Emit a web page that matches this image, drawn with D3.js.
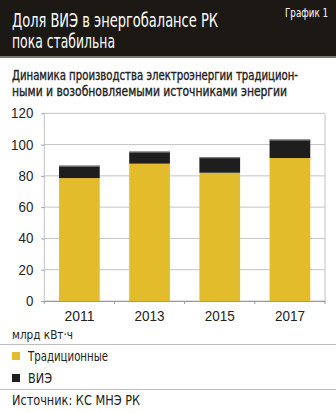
<!DOCTYPE html>
<html><head><meta charset="utf-8">
<script src="https://cdn.jsdelivr.net/npm/d3@7"></script>
<style>
body{margin:0;background:#fff;}
svg{display:block;font-family:"DejaVu Sans Condensed","DejaVu Sans",sans-serif;font-stretch:condensed;}
</style></head>
<body><svg id="c" width="336" height="413"></svg>
<script>
const years = ["2011","2013","2015","2017"];
const traditional = [78.6, 87.8, 82.0, 91.4];
const renewable = [7.9, 7.7, 9.9, 11.8];
const yTicks = [0,20,40,60,80,100,120];
const seriesNames = ["Традиционные","ВИЭ"];
const colors = ["#e3bc2b","#1e1e1e"];

const svg = d3.select("#c");
function txt(x,y,s,size,len,opts={}){
  const t = svg.append("text").attr("x",x).attr("y",y).attr("font-size",size)
    .attr("fill",opts.fill||"#222").text(s);
  if(len) t.attr("textLength",len).attr("lengthAdjust","spacingAndGlyphs");
  if(opts.anchor) t.attr("text-anchor",opts.anchor);
  if(opts.stroke) t.attr("stroke",opts.fill||"#222").attr("stroke-width",opts.stroke);
  return t;
}
// header
svg.append("rect").attr("x",0).attr("y",0).attr("width",336).attr("height",56).attr("fill","#1c1915");
svg.append("rect").attr("x",0).attr("y",56).attr("width",336).attr("height",2).attr("fill","#7a7672");
txt(12,27,"Доля ВИЭ в энергобалансе РК",19,206,{fill:"#fff"});
txt(12,48,"пока стабильна",19,103,{fill:"#fff"});
txt(285,17,"График 1",12.5,43,{fill:"#fff"});
// subtitle
txt(12,80,"Динамика производства электроэнергии традицион-",13.5,286,{stroke:0.35});
txt(12,96,"ными и возобновляемыми источниками энергии",13.5,275,{stroke:0.35});

const x = d3.scaleBand().domain(years).range([44.3,325]).paddingInner(0.42).paddingOuter(0.21);
const y = d3.scaleLinear().domain([0,120]).range([301,113.3]);

const g = svg.append("g");
g.selectAll("line.grid").data(yTicks).join("line")
 .attr("x1",44.3).attr("x2",325).attr("y1",d=>y(d)).attr("y2",d=>y(d))
 .attr("stroke","#c4c4c4").attr("stroke-width",1);
g.append("line").attr("x1",325).attr("x2",325).attr("y1",y(120)).attr("y2",y(0)).attr("stroke","#c4c4c4");
g.append("line").attr("x1",44.3).attr("x2",44.3).attr("y1",y(120)).attr("y2",y(0)).attr("stroke","#c4c4c4");

const stackData = years.map((yr,i)=>({year:yr, t:traditional[i], r:renewable[i]}));
const stack = d3.stack().keys(["t","r"])(stackData);
stack.forEach((s,si)=>{
  g.selectAll(null).data(s).join("rect")
   .attr("x",d=>x(d.data.year)).attr("width",x.bandwidth())
   .attr("y",d=>y(d[1])).attr("height",d=>y(d[0])-y(d[1]))
   .attr("fill",colors[si]);
  if(si===1){
    g.selectAll(null).data(s).join("line")
     .attr("x1",d=>x(d.data.year)).attr("x2",d=>x(d.data.year)+x.bandwidth())
     .attr("y1",d=>y(d[1])+0.5).attr("y2",d=>y(d[1])+0.5)
     .attr("stroke","#8a8a8a").attr("stroke-width",1);
  }
});

// x axis
const xAxis = g.append("g").attr("transform",`translate(0,${y(0)})`)
 .call(d3.axisBottom(x).tickSize(0).tickPadding(10));
xAxis.select(".domain").attr("stroke","#9a9a9a");
xAxis.selectAll("text").attr("font-size",14).attr("fill","#222").attr("font-family",null)
 .attr("textLength",30).attr("lengthAdjust","spacingAndGlyphs");
const edges = years.map(d=>x(d)-x.step()*x.paddingInner()/2).concat([325]);
xAxis.selectAll("line.edge").data(edges).join("line").attr("class","edge")
 .attr("x1",d=>d).attr("x2",d=>d).attr("y1",0).attr("y2",3).attr("stroke","#9a9a9a");

// y axis
const yAxis = g.append("g").attr("transform","translate(44.3,0)")
 .call(d3.axisLeft(y).tickValues(yTicks).tickSize(3).tickPadding(8));
yAxis.select(".domain").remove();
yAxis.selectAll("line").attr("stroke","#9a9a9a");
yAxis.selectAll("text").attr("font-size",14).attr("fill","#222").attr("font-family",null)
 .attr("textLength",d=>String(d).length*7.4).attr("lengthAdjust","spacingAndGlyphs");

// unit
txt(12,339,"млрд кВт·ч",12.5,61);
svg.append("line").attr("x1",0).attr("x2",336).attr("y1",344.5).attr("y2",344.5).attr("stroke","#bdbdbd");
seriesNames.forEach((n,i)=>{
  const yy = 352 + i*22;
  svg.append("rect").attr("x",12).attr("y",yy).attr("width",8).attr("height",8).attr("fill",colors[i]);
  txt(28,yy+9,n,13.5,i===0?80:24);
});
svg.append("line").attr("x1",0).attr("x2",336).attr("y1",389.5).attr("y2",389.5).attr("stroke","#bdbdbd");
txt(12,405,"Источник: КС МНЭ РК",13.5,128);
</script></body></html>
